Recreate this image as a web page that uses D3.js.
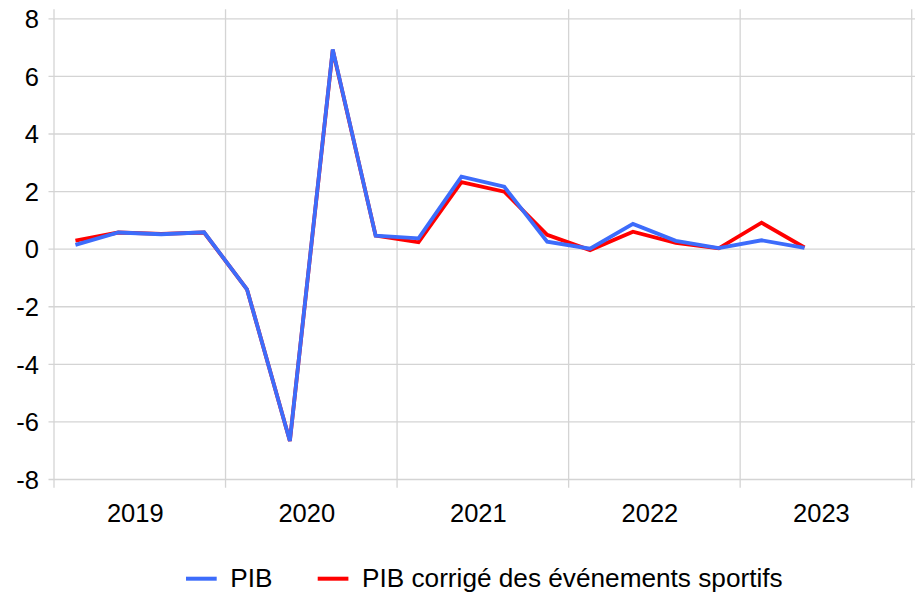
<!DOCTYPE html>
<html>
<head>
<meta charset="utf-8">
<script src="https://cdn.jsdelivr.net/npm/d3@7"></script>
<style>
body { margin: 0; background: #fff; }
svg { font-family: "Liberation Sans", Arial, sans-serif; }
</style>
</head>
<body>
<div id="chart"></div>
<script>
//data
var years = ["2019", "2020", "2021", "2022", "2023"];
var quarters = ["2019T1","2019T2","2019T3","2019T4","2020T1","2020T2","2020T3","2020T4",
                "2021T1","2021T2","2021T3","2021T4","2022T1","2022T2","2022T3","2022T4",
                "2023T1","2023T2"];
var pib =     [0.13, 0.56, 0.50, 0.57, -1.41, -6.68, 6.92, 0.45, 0.36, 2.50, 2.15, 0.24, 0.00, 0.86, 0.27, 0.02, 0.29, 0.03];
var pibCorr = [0.28, 0.56, 0.51, 0.56, -1.41, -6.68, 6.90, 0.45, 0.22, 2.31, 1.98, 0.48, -0.05, 0.59, 0.20, 0.01, 0.90, 0.04];
var yTicks = [-8, -6, -4, -2, 0, 2, 4, 6, 8];
var seriesNames = ["PIB", "PIB corrigé des événements sportifs"];
var colors = ["#3d6cfb", "#ff0000"];

var width = 915, height = 596;
var plotLeft = 54, plotRight = 911.7, plotTop = 18.3, plotBottom = 479;

var svg = d3.select("#chart").append("svg")
    .attr("width", width)
    .attr("height", height);

var x = d3.scaleBand().domain(years).range([plotLeft, plotRight]);
var xq = d3.scalePoint().domain(quarters).range([plotLeft, plotLeft + x.bandwidth() * quarters.length / 4]).padding(0.5);
var y = d3.scaleLinear().domain([-8, 8]).range([plotBottom, plotTop]);

//horizontal grid + y labels
var yAxis = svg.append("g")
    .attr("transform", "translate(" + plotLeft + ",0)")
    .call(d3.axisLeft(y).tickValues(yTicks).tickSize(-(width - plotLeft)).tickSizeOuter(0).tickPadding(15)
          .tickFormat(function(d) { return d; }));
yAxis.select(".domain").remove();
yAxis.selectAll("line").attr("x1", -5.5).attr("stroke", "#d4d4d4").attr("stroke-width", 1.3);
yAxis.selectAll("text").attr("font-size", 25.5).attr("fill", "#000").attr("dy", "0.36em");

//vertical grid at year boundaries
var bounds = years.map(function(d) { return x(d); }).concat([x.range()[1]]);
svg.append("g").selectAll("line")
    .data(bounds)
    .enter().append("line")
    .attr("x1", function(d) { return d; })
    .attr("x2", function(d) { return d; })
    .attr("y1", 9.3)
    .attr("y2", 487.7)
    .attr("stroke", "#d4d4d4")
    .attr("stroke-width", 1.3);

//x labels
svg.append("g").selectAll("text")
    .data(years)
    .enter().append("text")
    .attr("x", function(d) { return x(d) + x.bandwidth() / 2 - 4.5; })
    .attr("y", 522.3)
    .attr("text-anchor", "middle")
    .attr("font-size", 25.5)
    .text(function(d) { return d; });

//lines (red below, blue on top)
var line = d3.line()
    .x(function(d, i) { return xq(quarters[i]); })
    .y(function(d) { return y(d); });

svg.append("path")
    .datum(pibCorr)
    .attr("d", line)
    .attr("fill", "none")
    .attr("stroke", colors[1])
    .attr("stroke-width", 3.8)
    .attr("stroke-linejoin", "miter");

svg.append("path")
    .datum(pib)
    .attr("d", line)
    .attr("fill", "none")
    .attr("stroke", colors[0])
    .attr("stroke-width", 3.8)
    .attr("stroke-linejoin", "miter");

//legend
var legendX = [186, 317.7];
var legend = svg.append("g").selectAll("g")
    .data(seriesNames)
    .enter().append("g")
    .attr("transform", function(d, i) { return "translate(" + legendX[i] + ",578.7)"; });
legend.append("line")
    .attr("x1", 0).attr("x2", 30.7)
    .attr("stroke", function(d, i) { return colors[i]; })
    .attr("stroke-width", 4);
legend.append("text")
    .attr("x", 44.3)
    .attr("y", 8.5)
    .attr("font-size", 26.2)
    .text(function(d) { return d; });
</script>
</body>
</html>
